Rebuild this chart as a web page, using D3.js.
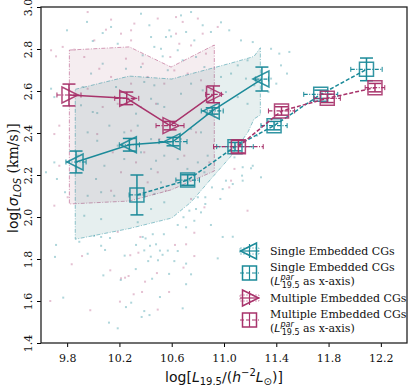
<!DOCTYPE html>
<html>
<head>
<meta charset="utf-8">
<script src="https://cdn.jsdelivr.net/npm/d3@7"></script>
<style>
  body { margin: 0; background: #fff; }
  text { fill: #111; }
</style>
</head>
<body>
<script>
// size of the page
var w = 415;
var h = 390;

// ---- data ----
var xTicks = [9.8, 10.2, 10.6, 11.0, 11.4, 11.8, 12.2];
var yTicks = [1.4, 1.6, 1.8, 2.0, 2.2, 2.4, 2.6, 2.8, 3.0];

// single embedded CGs (triangles)
var singleX = [9.868, 10.276, 10.61, 10.91, 11.29];
var singleY = [2.262, 2.344, 2.359, 2.505, 2.657];
var singleXerr = [0.077, 0.077, 0.107, 0.084, 0.05];
var singleYerr = [0.052, 0.03, 0.02, 0.015, 0.057];

// multiple embedded CGs (triangles)
var multiX = [9.814, 10.256, 10.587, 10.92];
var multiY = [2.581, 2.565, 2.435, 2.584];
var multiXerr = [0.092, 0.092, 0.107, 0.06];
var multiYerr = [0.052, 0.03, 0.02, 0.04];

// single, L par as x-axis (squares)
var singleParX = [10.334, 10.722, 11.084, 11.383, 11.74, 12.09];
var singleParY = [2.105, 2.176, 2.335, 2.435, 2.584, 2.703];
var singleParXerr = [0.06, 0.09, 0.14, 0.1, 0.13, 0.12];
var singleParYerr = [0.095, 0.025, 0.02, 0.02, 0.02, 0.054];

// multiple, L par as x-axis (squares)
var multiParX = [11.11, 11.44, 11.79, 12.155];
var multiParY = [2.335, 2.505, 2.565, 2.616];
var multiParXerr = [0.19, 0.1, 0.1, 0.075];
var multiParYerr = [0.03, 0.02, 0.02, 0.02];

// shaded ranges
var singleBandX = [9.862, 10.276, 10.60, 10.748, 10.90, 11.054, 11.184, 11.23, 11.278];
var singleBandLo = [1.894, 1.945, 1.995, 2.071, 2.181, 2.29, 2.405, 2.467, 2.486];
var singleBandHi = [2.608, 2.671, 2.657, 2.682, 2.707, 2.733, 2.756, 2.765, 2.806];
var multiBandX = [9.817, 10.276, 10.595, 10.926];
var multiBandLo = [2.062, 2.076, 2.129, 2.219];
var multiBandHi = [2.795, 2.81, 2.714, 2.819];

// background galaxies
var singleDots = [
  [9.715,1.867],[9.707,1.81],[9.77,1.616],[10.077,1.722],[10.06,1.863],[10.09,1.843],[9.957,1.825],
  [10.325,1.752],[10.21,1.70],[10.24,1.816],[10.327,1.867],[10.39,1.841],[10.434,1.863],[10.48,1.87],
  [10.51,1.84],[10.44,1.811],[10.42,1.79],[10.495,1.794],[10.53,1.82],[10.57,1.84],[10.45,1.706],
  [10.51,1.619],[10.39,1.552],[10.43,1.533],[10.37,1.524],[10.29,1.592],[10.25,1.571],[10.12,1.497],
  [10.187,1.47],[10.58,1.729],[10.378,1.905],[10.40,1.898],[10.455,1.918],[10.54,1.918],[9.893,1.882],
  [10.128,1.90],[10.006,1.91],[10.06,1.905],
  [11.08,2.284],[11.143,2.237],[11.207,2.232],[11.138,2.197],[11.015,2.173],[11.067,2.157],[10.99,2.133],
  [10.908,2.141],[10.972,2.086],[10.857,2.094],[10.8,2.094],[10.857,2.062],[10.786,2.038],[10.824,2.022],
  [10.735,2.03],[10.69,1.999],[10.773,1.982],[10.90,1.962],[10.71,1.951],[10.646,1.962],[11.253,2.387],
  [11.22,2.244],[11.283,2.189],[11.143,2.173],
  [10.99,1.905],[11.067,1.906],[10.952,1.803],[10.71,1.778],[10.748,1.727],[10.71,1.68],[10.684,1.565],
  [10.646,1.838],[10.62,1.79],
  [9.799,2.889],[9.952,2.929],[10.072,2.876],[9.996,2.838],[10.187,2.825],[10.136,2.905],[10.365,2.968],
  [10.442,2.857],[10.467,2.81],[10.531,2.765],[10.556,2.857],[10.582,2.889],[9.702,2.571],[9.677,2.611],
  [9.906,2.532],[10.03,2.495],[10.174,2.619],[10.39,2.643],[10.467,2.627],[10.493,2.539],[10.543,2.524],
  [10.57,2.699],[10.365,2.714],[10.25,2.706],[10.072,2.73],[9.983,2.683],[9.919,2.619],[9.996,2.50],
  [10.327,2.492],[10.442,2.563],[10.378,2.77],[10.518,2.801],[10.595,2.86],[10.429,2.913],
  [10.671,2.96],[10.748,2.976],[10.837,2.913],[10.90,2.881],[10.977,2.927],[11.04,2.889],[11.13,2.841],
  [11.22,2.833],[11.36,2.801],[11.423,2.778],[11.50,2.786],[11.18,2.746],[11.105,2.722],[11.054,2.683],
  [11.168,2.659],[11.232,2.627],[11.36,2.659],[11.34,2.595],[11.40,2.635],[10.773,2.841],[10.71,2.881],
  [10.646,2.794],[10.684,2.746],[10.786,2.762],[10.85,2.714],[10.977,2.667],[10.748,2.635],[10.837,2.603],
  [10.671,2.587],[11.015,2.595],[11.105,2.571],[11.18,2.539],[11.436,2.722],[11.482,2.683],
  [9.702,2.26],[9.638,2.213],[9.722,2.181],[9.784,2.118],[9.957,2.403],[10.03,2.363],[10.123,2.435],
  [10.187,2.34],[10.237,2.276],[10.085,2.244],[10.021,2.181],[10.06,2.118],[9.957,2.101],[10.16,2.101],
  [10.442,2.229],[10.48,2.268],[10.365,2.308],[10.442,2.371],[10.543,2.292],[10.518,2.165],[10.467,2.11],
  [10.442,2.038],[10.543,2.07],[10.34,1.975],[10.06,1.99],[9.931,2.006],[10.237,2.403],[10.34,2.435],
  [9.881,2.292],[10.646,2.276],[10.72,2.229],[10.80,2.26],[10.85,2.213],[10.748,2.419],[10.824,2.403],
  [10.875,2.292],[10.671,2.371]
];
var multiDots = [
  [9.914,1.814],[9.835,1.775],[10.13,1.746],[10.212,1.708],[10.243,1.711],[10.27,1.719],[10.345,1.83],
  [10.283,1.818],[10.36,1.905],[10.487,1.733],[10.396,1.692],[10.373,1.643],[10.309,1.632],[10.204,1.597],
  [9.977,1.556],[9.671,1.60],[10.493,1.559],[10.58,1.643],[10.187,1.929],
  [11.054,2.173],[11.04,2.141],[11.18,2.03],[10.85,2.046],[10.748,2.086],[11.08,2.229],
  [10.625,1.867],[10.71,1.87],[10.773,1.814],[10.69,1.759],[10.773,1.925],
  [9.957,2.976],[10.136,2.94],[10.097,2.892],[10.212,2.873],[10.289,2.889],[10.314,2.921],[10.493,2.945],
  [10.008,2.841],[9.855,2.797],[9.766,2.81],[9.677,2.794],[9.715,2.765],[9.931,2.762],[10.046,2.706],
  [10.136,2.667],[10.25,2.754],[10.378,2.73],[10.416,2.667],[10.187,2.539],[9.957,2.611],[10.289,2.635],
  [10.543,2.635],[10.48,2.539],[10.072,2.524],[10.289,2.841],[10.589,2.762],[10.365,2.524],
  [10.633,2.952],[10.684,2.929],[10.80,2.945],[10.837,2.873],[10.748,2.817],[10.658,2.825],[10.862,2.778],
  [10.952,2.905],[10.62,2.698],[10.722,2.683],[10.824,2.651],[10.90,2.603],[10.633,2.873],
  [9.702,2.395],[9.74,2.244],[9.804,2.094],[9.702,2.054],[10.136,2.125],[10.149,2.308],[10.212,2.213],
  [10.327,2.26],[10.416,2.165],[10.39,2.308],[10.493,2.213],[10.505,2.371],[10.03,2.395],[10.289,2.411],
  [9.74,2.435],[10.556,2.125],[10.696,2.292],[10.786,2.403],[10.888,2.26]
];

var legendLabels = [
  ["Single Embedded CGs"],
  ["Single Embedded CGs", "(L", "par", "19.5", " as x-axis)"],
  ["Multiple Embedded CGs"],
  ["Multiple Embedded CGs", "(L", "par", "19.5", " as x-axis)"]
];

// ---- colours ----
var teal = "#1b8a99";
var mag = "#a8336b";

// ---- svg ----
var svg = d3.select("body")
            .append("svg")
            .attr("width", w)
            .attr("height", h);

var x = d3.scaleLinear().domain([9.6, 12.4]).range([41, 407]);
var y = d3.scaleLinear().domain([1.4, 3.0]).range([343, 7]);

var plot = svg.append("g");
plot.append("clipPath").attr("id", "clip")
    .append("rect").attr("x", 41).attr("y", 7).attr("width", 366).attr("height", 336);
var inner = plot.append("g").attr("clip-path", "url(#clip)");

// dots
inner.selectAll("rect.sd")
    .data(singleDots)
    .enter()
    .append("rect")
    .attr("class", "sd")
    .attr("x", function(d) { return x(d[0]) - 1; })
    .attr("y", function(d) { return y(d[1]) - 1; })
    .attr("width", 2).attr("height", 2)
    .attr("fill", teal).attr("opacity", 0.35);

inner.selectAll("rect.md")
    .data(multiDots)
    .enter()
    .append("rect")
    .attr("class", "md")
    .attr("x", function(d) { return x(d[0]) - 1; })
    .attr("y", function(d) { return y(d[1]) - 1; })
    .attr("width", 2).attr("height", 2)
    .attr("fill", mag).attr("opacity", 0.3);

// bands
function band(xs, lo, hi, col, fillCol, op) {
  var pts = xs.map(function(v, i) { return [v, hi[i]]; });
  var back = xs.map(function(v, i) { return [v, lo[i]]; }).reverse();
  var line = d3.line().x(function(d) { return x(d[0]); }).y(function(d) { return y(d[1]); });
  inner.append("path")
       .attr("d", line(pts.concat(back)) + "Z")
       .attr("fill", fillCol)
       .attr("fill-opacity", op)
       .attr("stroke", col)
       .attr("stroke-opacity", 0.6)
       .attr("stroke-width", 0.8)
       .attr("stroke-dasharray", "4,1.5,1,1.5");
}
band(multiBandX, multiBandLo, multiBandHi, mag, "#a0506e", 0.1);
band(singleBandX, singleBandLo, singleBandHi, teal, "#3c8287", 0.13);

// error bars + connecting lines + markers
function series(xs, ys, xe, ye, col, dashed, marker) {
  var pts = xs.map(function(v, i) { return [v, ys[i], xe[i], ye[i]]; });
  var line = d3.line().x(function(d) { return x(d[0]); }).y(function(d) { return y(d[1]); });
  inner.append("path")
       .attr("d", line(pts))
       .attr("fill", "none")
       .attr("stroke", col)
       .attr("stroke-width", 1.5)
       .attr("stroke-dasharray", dashed ? "4,2" : null);

  var g = inner.selectAll(null).data(pts).enter().append("g")
       .attr("stroke", col).attr("fill", "none");
  // x error
  g.append("line")
   .attr("x1", function(d) { return x(d[0] - d[2]); })
   .attr("x2", function(d) { return x(d[0] + d[2]); })
   .attr("y1", function(d) { return y(d[1]); })
   .attr("y2", function(d) { return y(d[1]); })
   .attr("stroke-width", 1.2)
   .attr("stroke-dasharray", "4,1.5,1,1.5");
  [-1, 1].forEach(function(s) {
    g.append("line")
     .attr("x1", function(d) { return x(d[0] + s * d[2]); })
     .attr("x2", function(d) { return x(d[0] + s * d[2]); })
     .attr("y1", function(d) { return y(d[1]) - 2.5; })
     .attr("y2", function(d) { return y(d[1]) + 2.5; })
     .attr("stroke-width", 1);
  });
  // y error
  g.append("line")
   .attr("x1", function(d) { return x(d[0]); })
   .attr("x2", function(d) { return x(d[0]); })
   .attr("y1", function(d) { return y(d[1] - d[3]); })
   .attr("y2", function(d) { return y(d[1] + d[3]); })
   .attr("stroke-width", 1.5);
  [-1, 1].forEach(function(s) {
    g.append("line")
     .attr("x1", function(d) { return x(d[0]) - 6.5; })
     .attr("x2", function(d) { return x(d[0]) + 6.5; })
     .attr("y1", function(d) { return y(d[1] + s * d[3]); })
     .attr("y2", function(d) { return y(d[1] + s * d[3]); })
     .attr("stroke-width", 1.5);
  });
  g.append("path")
   .attr("transform", function(d) { return "translate(" + x(d[0]) + "," + y(d[1]) + ")"; })
   .attr("d", marker)
   .attr("stroke-width", 1.5)
   .attr("stroke-opacity", 0.9);
}

var triLeft = "M-9,0L7,-8L7,8Z";
var triRight = "M9,0L-7,-8L-7,8Z";
var square = "M-7,-7H7V7H-7Z";

series(singleX, singleY, singleXerr, singleYerr, teal, false, triLeft);
series(multiX, multiY, multiXerr, multiYerr, mag, false, triRight);
series(singleParX, singleParY, singleParXerr, singleParYerr, teal, true, square);
series(multiParX, multiParY, multiParXerr, multiParYerr, mag, true, square);

// ---- axes ----
var xAxis = svg.append("g")
    .attr("transform", "translate(0,343)")
    .call(d3.axisBottom(x).tickValues(xTicks).tickFormat(d3.format(".1f")).tickSize(4).tickSizeOuter(0));
xAxis.select(".domain").remove();
xAxis.selectAll("text")
     .attr("font-family", "DejaVu Serif").attr("font-size", 11).attr("dy", "1.05em");

var yAxis = svg.append("g")
    .attr("transform", "translate(41,0)")
    .call(d3.axisLeft(y).tickValues(yTicks).tickFormat(d3.format(".1f")).tickSize(4).tickSizeOuter(0));
yAxis.select(".domain").remove();
yAxis.selectAll("text")
     .attr("font-family", "DejaVu Serif").attr("font-size", 11)
     .attr("x", 0).attr("dy", 0)
     .attr("text-anchor", "middle")
     .attr("transform", "translate(-9,0) rotate(-90)");

svg.append("rect")
   .attr("x", 41).attr("y", 7).attr("width", 366).attr("height", 336)
   .attr("fill", "none").attr("stroke", "#222").attr("stroke-width", 1.3);

// axis titles
var xl = svg.append("text")
   .attr("x", 224).attr("y", 382)
   .attr("text-anchor", "middle")
   .attr("font-family", "DejaVu Sans").attr("font-size", 14);
xl.append("tspan").text("log[");
xl.append("tspan").attr("font-style", "italic").text("L");
xl.append("tspan").attr("font-size", 10).attr("dy", 3).text("19.5");
xl.append("tspan").attr("dy", -3).text("/(");
xl.append("tspan").attr("font-style", "italic").text("h");
xl.append("tspan").attr("font-size", 10).attr("dy", -6).text("\u22122");
xl.append("tspan").attr("dy", 6).attr("font-style", "italic").text("L");
xl.append("tspan").attr("font-size", 10).attr("dy", 3).text("\u2299");
xl.append("tspan").attr("dy", -3).text(")]");

var yl = svg.append("text")
   .attr("transform", "translate(18,233) rotate(-90)")
   .attr("text-anchor", "start")
   .attr("font-family", "DejaVu Sans").attr("font-size", 14);
yl.append("tspan").text("log[");
yl.append("tspan").attr("font-style", "italic").text("\u03c3");
yl.append("tspan").attr("font-style", "italic").attr("font-size", 10).attr("dy", 3).text("LOS");
yl.append("tspan").attr("dy", -3).attr("font-family", "DejaVu Serif").text(" (km/s)]");

// ---- legend ----
var legY = [251, 273, 298, 320];
var legCol = [teal, teal, mag, mag];
var legMark = [triLeft, square, triRight, square];
var leg = svg.append("g");
legendLabels.forEach(function(lab, i) {
  var cy = legY[i];
  var g = leg.append("g").attr("stroke", legCol[i]).attr("fill", "none");
  g.append("line").attr("x1", 240).attr("x2", 259).attr("y1", cy).attr("y2", cy)
   .attr("stroke-width", 1.2).attr("stroke-dasharray", i % 2 ? "4,2" : null);
  if (i % 2 === 0) {
    g.append("rect").attr("x", 240).attr("y", cy - 3).attr("width", 19).attr("height", 6)
     .attr("stroke-width", 0.8).attr("stroke-dasharray", "2,1").attr("stroke-opacity", 0.6);
  }
  g.append("line").attr("x1", 249.5).attr("x2", 249.5).attr("y1", cy - 7).attr("y2", cy + 7)
   .attr("stroke-width", 1.2);
  g.append("path").attr("transform", "translate(249.5," + cy + ")")
   .attr("d", legMark[i]).attr("stroke-width", 1.5);

  var t = leg.append("text").attr("font-family", "DejaVu Serif").attr("font-size", 11);
  if (lab.length === 1) {
    t.attr("x", 270).attr("y", cy + 4).text(lab[0]);
  } else {
    t.attr("x", 270).attr("y", cy - 2).text(lab[0]);
    var t2 = leg.append("text").attr("font-family", "DejaVu Serif").attr("font-size", 11)
       .attr("x", 270).attr("y", cy + 12);
    t2.append("tspan").text("(");
    t2.append("tspan").attr("font-family", "DejaVu Sans").attr("font-style", "italic").text("L");
    t2.append("tspan").attr("font-family", "DejaVu Sans").attr("font-style", "italic")
      .attr("font-size", 8).attr("dy", -5).text(lab[2]);
    t2.append("tspan").attr("font-family", "DejaVu Sans").attr("font-size", 8)
      .attr("dx", -12).attr("dy", 8).text(lab[3]);
    t2.append("tspan").attr("dy", -3).text(lab[4]);
  }
});
</script>
</body>
</html>
